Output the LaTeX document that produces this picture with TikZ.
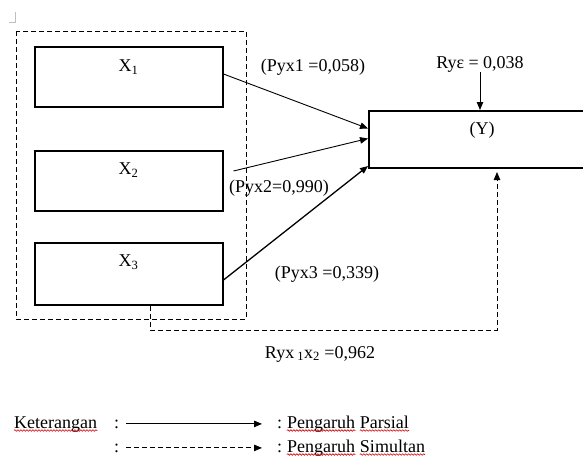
\documentclass[tikz,border=0pt]{standalone}
\usepackage{fontspec}
\setmainfont{Liberation Serif}
\usetikzlibrary{arrows.meta,positioning,decorations.pathmorphing}
\tikzset{
  varbox/.style={draw, line width=2pt, minimum width=188pt, minimum height=60pt, inner sep=0pt},
  txt/.style={inner sep=0pt, font=\fontsize{18}{21}\selectfont},
  parsial/.style={line width=0.9pt, -{Triangle[length=8pt,width=6.5pt]}},
  simultan/.style={parsial, dash pattern=on 5pt off 3pt},
  groupbox/.style={line width=0.9pt, dash pattern=on 5pt off 3pt},
  spell/.style={red!85!black, line width=0.6pt, decorate,
    decoration={snake, amplitude=0.8pt, segment length=3pt}}
}
\begin{document}
\begin{tikzpicture}[x=1pt, y=-1pt]
  \useasboundingbox (0,0) rectangle (583,456);
  % corner mark
  \draw[gray!50, line width=0.8pt] (15,12) -- (15,22) -- (9,22);
  % group X1..X3
  \draw[groupbox] (16,31) rectangle (246,319);
  \node[varbox] (x1) at (128.5,77) {};
  \node[varbox] (x2) at (128.5,181) {};
  \node[varbox, minimum height=62pt] (x3) at (128.5,274) {};
  \node[varbox, minimum width=221pt, minimum height=57pt] (y) at (479.5,139.5) {};
  \node[txt] (x1t) at (128.5,67) {X\textsubscript{1}};
  \node[txt] (x2t) at (128.5,170) {X\textsubscript{2}};
  \node[txt] (x3t) at (128.5,262) {X\textsubscript{3}};
  \node[txt] (yt) at (482,130) {(Y)};
  % partial paths
  \draw[parsial] ([yshift=3pt]x1.east) -- ([yshift=11pt]y.west);
  \draw[parsial] ([xshift=10pt,yshift=10pt]x2.east) -- ([yshift=1pt]y.west);
  \draw[parsial, line width=1.3pt] ([yshift=-6pt]x3.east) -- ([yshift=3pt]y.south west);
  \node[txt] (p1) at (313,67) {(Pyx1 =0,058)};
  \node[txt] (p2) at (279,188) {(Pyx2=0,990)};
  \node[txt] (p3) at (327,274) {(Pyx3 =0,339)};
  % residual
  \node[txt] (rye) at (480,64) {Ryε = 0,038};
  \draw[parsial] (rye.south) -- (rye.south |- y.north);
  % simultaneous path
  \coordinate (jn) at (497,330);
  \draw[simultan, shorten >=3pt] ([xshift=21.5pt]x3.south) |- (jn) -- (jn |- y.south);
  \node[txt] (r12) at (320,354) {Ryx\,\textsubscript{1}x\textsubscript{2} =0,962};
  % legend
  \node[txt, anchor=base west] (ket) at (14,428) {Keterangan};
  \node[txt, anchor=base west] (c1) at (114,428) {:};
  \node[txt, anchor=base west] (c2) at (114,452) {:};
  \node[txt, anchor=base west] (lp) at (277,428) {:};
  \node[txt, anchor=base west] (lp1) at ([xshift=4.5pt]lp.base east) {Pengaruh};
  \node[txt, anchor=base west] (lp2) at ([xshift=4.5pt]lp1.base east) {Parsial};
  \node[txt, anchor=base west] (ls) at (277,452) {:};
  \node[txt, anchor=base west] (ls1) at ([xshift=4.5pt]ls.base east) {Pengaruh};
  \node[txt, anchor=base west] (ls2) at ([xshift=4.5pt]ls1.base east) {Simultan};
  \draw[parsial, shorten <=7pt, shorten >=15pt] (c1.east) -- (c1.east -| lp.west);
  \draw[simultan, shorten <=7pt, shorten >=15pt] (c2.east) -- (c2.east -| ls.west);
  \foreach \w in {ket, lp1, lp2, ls1, ls2}
    \draw[spell] ([yshift=-2.5pt]\w.base west) -- ([yshift=-2.5pt]\w.base east);
\end{tikzpicture}
\end{document}
